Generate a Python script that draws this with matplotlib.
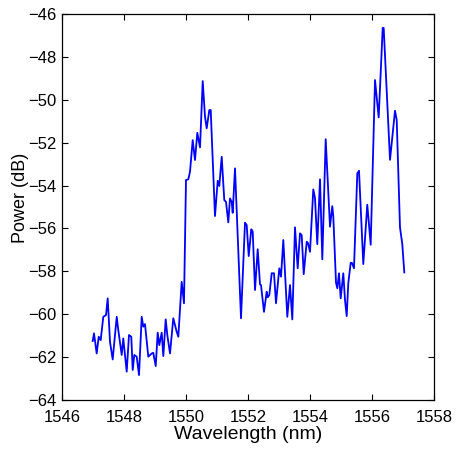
import matplotlib
matplotlib.use("Agg")
import matplotlib.pyplot as plt

plt.rcParams['font.family'] = ['Liberation Sans', 'DejaVu Sans']

wavelength = [
    1546.990, 1547.032, 1547.119, 1547.184, 1547.248, 1547.332, 1547.419, 1547.474,
    1547.548, 1547.635, 1547.765, 1547.816, 1547.926, 1547.977, 1548.087, 1548.161,
    1548.235, 1548.281, 1548.332, 1548.410, 1548.484, 1548.571, 1548.623, 1548.677,
    1548.784, 1548.894, 1548.945, 1549.023, 1549.087, 1549.139, 1549.216, 1549.268,
    1549.345, 1549.397, 1549.484, 1549.590, 1549.700, 1549.752, 1549.861, 1549.935,
    1550.000, 1550.074, 1550.129, 1550.216, 1550.290, 1550.365, 1550.452, 1550.539,
    1550.613, 1550.668, 1550.752, 1550.797, 1550.848, 1550.935, 1551.023, 1551.074,
    1551.152, 1551.235, 1551.290, 1551.365, 1551.419, 1551.474, 1551.506, 1551.581,
    1551.774, 1551.903, 1551.958, 1552.023, 1552.106, 1552.152, 1552.226, 1552.313,
    1552.387, 1552.419, 1552.516, 1552.603, 1552.635, 1552.687, 1552.765, 1552.839,
    1552.903, 1553.010, 1553.065, 1553.139, 1553.268, 1553.355, 1553.429, 1553.516,
    1553.603, 1553.677, 1553.732, 1553.797, 1553.894, 1553.935, 1554.000, 1554.106,
    1554.161, 1554.235, 1554.323, 1554.397, 1554.506, 1554.645, 1554.719, 1554.752,
    1554.839, 1554.881, 1554.935, 1554.990, 1555.074, 1555.129, 1555.184, 1555.235,
    1555.313, 1555.355, 1555.419, 1555.526, 1555.581, 1555.719, 1555.848, 1555.958,
    1556.097, 1556.216, 1556.345, 1556.377, 1556.581, 1556.742, 1556.797, 1556.903,
    1556.977, 1557.042,
]

power = [
    -61.25, -60.89, -61.83, -61.05, -61.21, -60.12, -60.04, -59.26,
    -61.28, -62.11, -60.12, -60.74, -61.90, -61.13, -62.68, -60.97,
    -61.05, -62.60, -61.90, -61.98, -62.84, -60.12, -60.58, -60.46,
    -61.98, -61.83, -61.80, -62.42, -60.86, -61.44, -60.86, -61.95,
    -60.24, -60.97, -61.83, -60.19, -60.82, -61.05, -58.49, -59.49,
    -53.74, -53.71, -53.36, -51.88, -52.81, -51.54, -52.22, -49.13,
    -50.79, -51.33, -50.48, -50.48, -52.34, -55.42, -53.78, -54.02,
    -52.66, -54.68, -54.76, -55.72, -54.60, -54.76, -55.27, -53.20,
    -60.19, -55.73, -55.84, -57.29, -56.04, -56.15, -58.87, -56.97,
    -58.61, -58.64, -59.89, -58.95, -59.21, -59.11, -58.09, -58.09,
    -59.49, -57.86, -58.25, -56.54, -60.12, -58.64, -60.24, -55.95,
    -57.86, -56.23, -56.31, -58.13, -56.62, -56.68, -57.09, -54.18,
    -54.58, -56.73, -53.71, -57.44, -51.84, -55.92, -54.96, -55.45,
    -58.53, -58.79, -58.09, -59.26, -58.09, -59.34, -60.09, -58.56,
    -57.60, -57.61, -57.86, -53.43, -53.31, -57.66, -54.89, -56.76,
    -49.08, -50.82, -46.65, -46.65, -52.80, -50.51, -50.94, -55.95,
    -56.73, -58.05,
]

x_ticks = [1546, 1548, 1550, 1552, 1554, 1556, 1558]
y_ticks = [-64, -62, -60, -58, -56, -54, -52, -50, -48, -46]

fig = plt.figure(figsize=(4.58, 4.49), dpi=100)
ax = fig.add_axes([62/458, 1 - 400/449, (434 - 62)/458, (400 - 14)/449])
ax.plot(wavelength, power, color=(0, 0, 1), linewidth=1.3)
ax.set_xlim(1546, 1558)
ax.set_ylim(-64, -46)
ax.set_xticks(x_ticks)
ax.set_yticks(y_ticks)
ax.tick_params(direction='in', top=True, right=True, length=4, width=0.8,
               labelsize=12)
ax.tick_params(axis='x', pad=7)
ax.tick_params(axis='y', pad=4)
for s in ax.spines.values():
    s.set_linewidth(0.9)
ax.set_xlabel('Wavelength (nm)', fontsize=14, labelpad=1)
ax.set_ylabel('Power (dB)', fontsize=13)
ax.yaxis.set_label_coords(-0.088, 0.523)
fig.savefig('out.png', dpi=100)
